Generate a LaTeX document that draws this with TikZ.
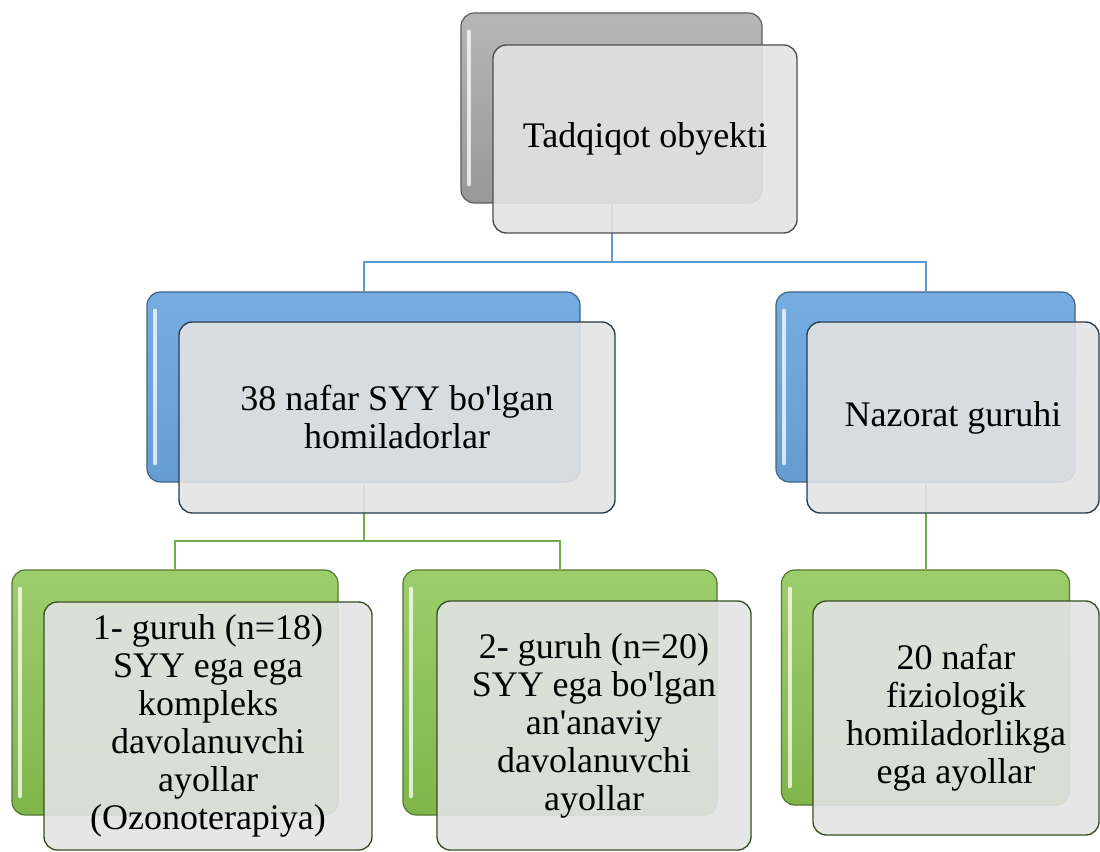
\documentclass[tikz,border=0pt]{standalone}
\usepackage{fontspec}
\setmainfont{Liberation Serif}
\definecolor{grayback}{HTML}{A9A9A9}
\definecolor{blueback}{HTML}{6AA5DE}
\definecolor{greenback}{HTML}{8BC552}
\definecolor{frontfill}{HTML}{E3E3E3}
\definecolor{bluelink}{HTML}{5B9BD5}
\definecolor{greenlink}{HTML}{70AD47}
\begin{document}
\begin{tikzpicture}[x=0.75pt,y=-0.75pt,
    backbox/.style={rounded corners=10pt,line width=0.9pt,
      path picture={\draw[white,line width=3pt,opacity=0.75,line cap=round]
        ([xshift=6pt,yshift=-14pt]path picture bounding box.north west) --
        ([xshift=6pt,yshift=14pt]path picture bounding box.south west);}},
    grayb/.style={backbox,draw=grayback!55!black,top color=grayback!85!white,bottom color=grayback!90!black},
    blueb/.style={backbox,draw=blueback!60!black,top color=blueback!92!white,bottom color=blueback!95!black},
    greenb/.style={backbox,draw=greenback!60!black,top color=greenback!85!white,bottom color=greenback!92!black},
    frontbox/.style={rounded corners=10pt,line width=1pt,fill=frontfill,fill opacity=0.9,
      text opacity=1,align=center,font=\fontsize{27}{28.5}\selectfont},
    grayf/.style={frontbox,draw=black!70},
    bluef/.style={frontbox,draw=blueback!35!black},
    greenf/.style={frontbox,draw=greenback!40!black},
    link/.style={line width=1.5pt}]
  \useasboundingbox (0,0) rectangle (1100,852);
  % back boxes
  \node[grayb,minimum width=225.75pt,minimum height=142.5pt](objB)at(611.5,108){};
  \node[blueb,minimum width=324.75pt,minimum height=142.5pt](grpB)at(363.5,387){};
  \node[blueb,minimum width=224.25pt,minimum height=142.5pt](ctlB)at(925.5,387){};
  \node[greenb,minimum width=244.5pt,minimum height=183.75pt](ozonB)at(175,692.5){};
  \node[greenb,minimum width=235.5pt,minimum height=183.75pt](tradB)at(560,692.5){};
  \node[greenb,minimum width=216pt,minimum height=176.25pt](fizB)at(925.5,687.5){};
  % connectors
  \coordinate (j1) at (611.5,262);
  \coordinate (j2) at (363.5,541);
  \draw[link,bluelink](objB.south)--(j1);
  \draw[link,bluelink](grpB.north)|-(j1)-|(ctlB.north);
  \draw[link,greenlink](grpB.south)--(j2);
  \draw[link,greenlink](ozonB.north)|-(j2)-|(tradB.north);
  \draw[link,greenlink](ctlB.south)--(fizB.north);
  % front boxes
  \node[grayf,minimum width=228pt,minimum height=141pt](obj)at(645,139){Tadqiqot obyekti};
  \node[bluef,minimum width=327pt,minimum height=143.25pt](grp)at(397,417.5){38 nafar SYY bo\textquotesingle lgan\\homiladorlar};
  \node[bluef,minimum width=219pt,minimum height=143.25pt](ctl)at(953,417.5){Nazorat guruhi};
  \node[greenf,minimum width=246pt,minimum height=186pt](ozon)at(208,726){1- guruh (n=18)\\SYY ega ega\\kompleks\\davolanuvchi\\ayollar\\(Ozonoterapiya)};
  \node[greenf,minimum width=235.5pt,minimum height=186.75pt](trad)at(594,725.5){2- guruh (n=20)\\SYY ega bo\textquotesingle lgan\\an\textquotesingle anaviy\\davolanuvchi\\ayollar};
  \node[greenf,minimum width=214.5pt,minimum height=175.5pt](fiz)at(956,718){20 nafar\\fiziologik\\homiladorlikga\\ega ayollar};
\end{tikzpicture}
\end{document}
